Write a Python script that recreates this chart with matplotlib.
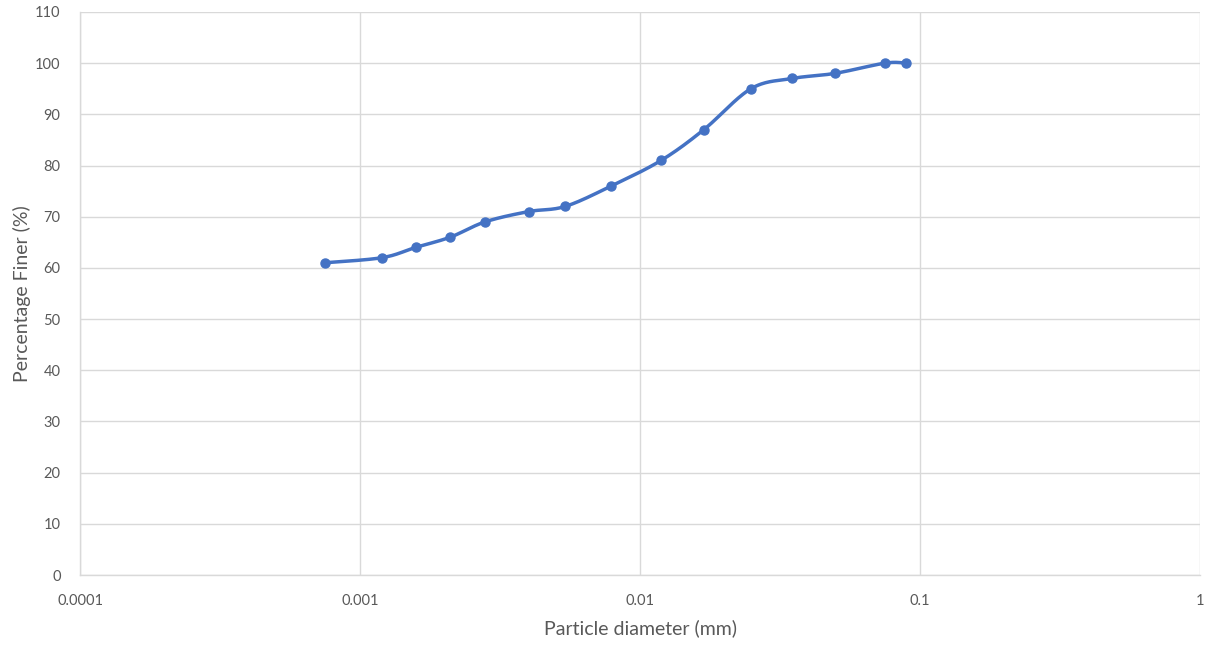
"""Particle size distribution (hydrometer) – percentage finer vs. diameter."""
import matplotlib
matplotlib.use("Agg")
import matplotlib.pyplot as plt  # noqa: E402
import numpy as np  # noqa: E402
from matplotlib.ticker import FixedLocator, FuncFormatter, NullLocator  # noqa: E402

diameter_mm = [0.00075, 0.0012, 0.00158, 0.0021, 0.0028, 0.004, 0.0054,
               0.0079, 0.0119, 0.0169, 0.0249, 0.0349, 0.0497, 0.075, 0.089]
pct_finer = [61, 62, 64, 66, 69, 71, 72, 76, 81, 87, 95, 97, 98, 100, 100]

x_ticks = [0.0001, 0.001, 0.01, 0.1, 1]
x_labels = ["0.0001", "0.001", "0.01", "0.1", "1"]
y_ticks = list(range(0, 111, 10))

LINE = "#4472C4"
GRID = "#D9D9D9"
TXT = "#595959"


def smooth(xs, ys, n=30):
    """Excel-style smoothed line (Catmull-Rom Bezier) in log-x space."""
    lx = np.log10(xs)
    ys = np.asarray(ys, float)
    P = np.column_stack([lx, ys])
    P = np.vstack([P[0], P, P[-1]])
    out = []
    for i in range(1, len(P) - 2):
        p0, p1, p2, p3 = P[i - 1], P[i], P[i + 1], P[i + 2]
        c1 = p1 + (p2 - p0) / 6
        c2 = p2 - (p3 - p1) / 6
        t = np.linspace(0, 1, n)[:, None]
        seg = ((1 - t) ** 3 * p1 + 3 * (1 - t) ** 2 * t * c1
               + 3 * (1 - t) * t ** 2 * c2 + t ** 3 * p2)
        out.append(seg if i == 1 else seg[1:])
    seg = np.vstack(out)
    return 10 ** seg[:, 0], seg[:, 1]


plt.rcParams["font.family"] = ["Lato", "DejaVu Sans"]

fig = plt.figure(figsize=(12.11, 6.45), dpi=100)
ax = fig.add_axes([0.0661, 0.1085, 0.9248, 0.873])

sx, sy = smooth(diameter_mm, pct_finer)
ax.plot(sx, sy, color=LINE, lw=2.5, solid_capstyle="round", zorder=3)
ax.plot(diameter_mm, pct_finer, "o", color=LINE, ms=6.5, zorder=4)

ax.set_xscale("log")
ax.set_xlim(0.0001, 1)
ax.set_ylim(0, 110)
ax.xaxis.set_major_locator(FixedLocator(x_ticks))
ax.xaxis.set_major_formatter(FuncFormatter(lambda v, _: x_labels[x_ticks.index(v)] if v in x_ticks else ""))
ax.xaxis.set_minor_locator(NullLocator())
ax.set_yticks(y_ticks)

ax.grid(True, color=GRID, lw=1.0)
ax.set_axisbelow(True)
for s in ("top", "right"):
    ax.spines[s].set_visible(False)
for s in ("left", "bottom"):
    ax.spines[s].set_color(GRID)
    ax.spines[s].set_linewidth(1.0)
ax.tick_params(length=0, colors=TXT, labelsize=10.5)
ax.tick_params(axis="x", pad=14)
ax.tick_params(axis="y", pad=14)

ax.set_xlabel("Particle diameter (mm)", fontsize=14, color=TXT, labelpad=8)
ax.set_ylabel("Percentage Finer (%)", fontsize=14, color=TXT, labelpad=3)

fig.savefig("out.png", dpi=100, facecolor="white")
